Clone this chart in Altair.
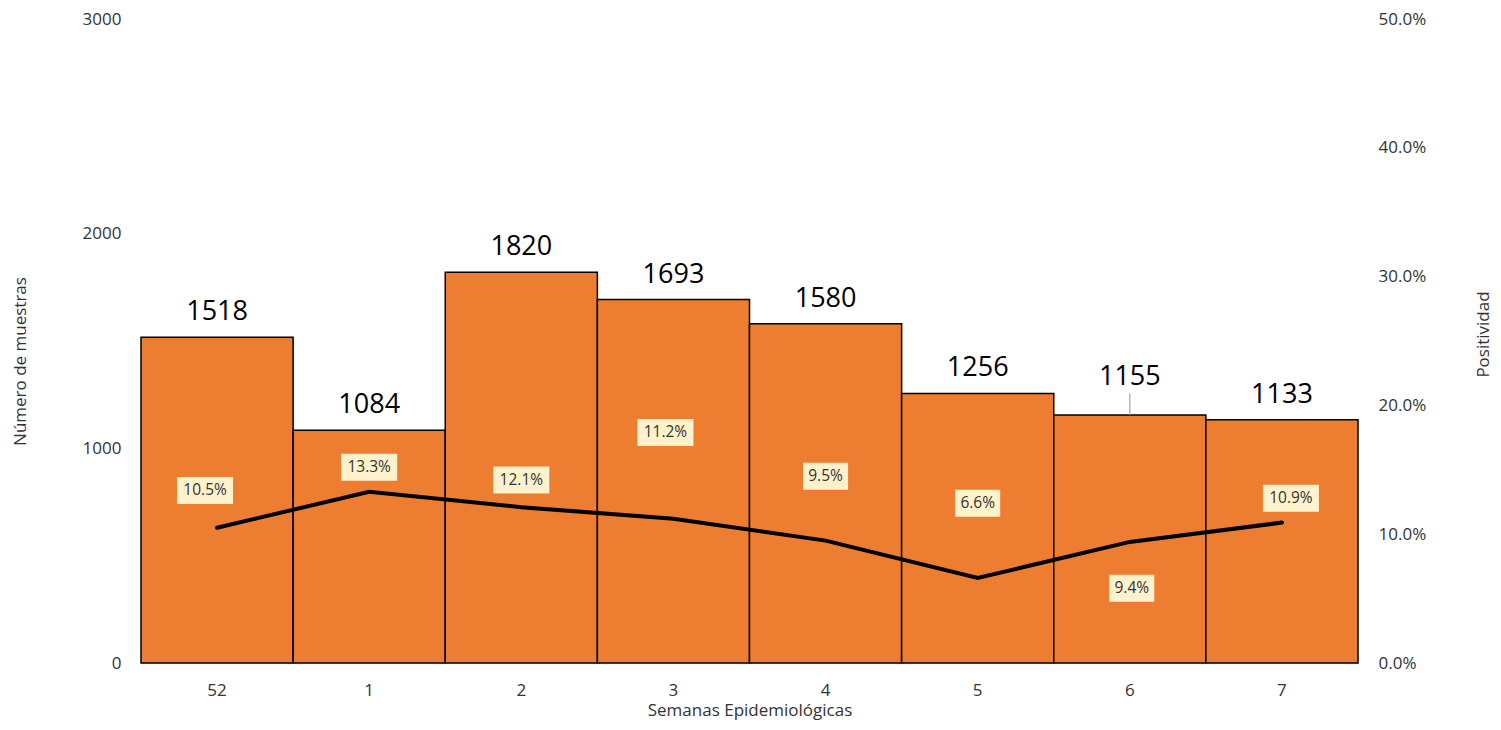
import altair as alt
import pandas as pd

# ---- data ----
WEEKS = ["52", "1", "2", "3", "4", "5", "6", "7"]
SAMPLES = [1518, 1084, 1820, 1693, 1580, 1256, 1155, 1133]
POSITIVITY = [10.5, 13.3, 12.1, 11.2, 9.5, 6.6, 9.4, 10.9]
PCT_LABELS = ["10.5%", "13.3%", "12.1%", "11.2%", "9.5%", "6.6%", "9.4%", "10.9%"]

# ---- label placement (layout) ----
PCT_LABEL_SHIFT = [2.9, 1.9, 2.1, 6.7, 5.0, 5.8, -3.6, 1.9]   # axis units
PCT_LABEL_XSHIFT = [-12, 0, 0, -8, 0, 0, 2, 9]                # pixels from band centre
COUNT_LABEL_SHIFT = [0, 0, 0, 0, 0, 0, 60, 0]
LEADER_LEN = [0, 0, 0, 0, 0, 0, 100, 0]

W, H = 1217, 644
HALF_BAND = W / len(WEEKS) / 2

df = pd.DataFrame({
    "week": WEEKS,
    "samples": SAMPLES,
    "pct": POSITIVITY,
    "label": PCT_LABELS,
    "pct_pos": [p + s for p, s in zip(POSITIVITY, PCT_LABEL_SHIFT)],
    "xshift": [HALF_BAND + s for s in PCT_LABEL_XSHIFT],
    "count_pos": [c + s for c, s in zip(SAMPLES, COUNT_LABEL_SHIFT)],
    "leader_end": [c + l for c, l in zip(SAMPLES, LEADER_LEN)],
    "has_leader": [l > 0 for l in LEADER_LEN],
    "long": [len(t) > 4 for t in PCT_LABELS],
})

FONT = "Open Sans"
TXT = "#333333"

x_enc = alt.X(
    "week:N", sort=WEEKS,
    scale=alt.Scale(paddingInner=0, paddingOuter=0),
    axis=alt.Axis(
        title="Semanas Epidemiológicas", labelAngle=0, ticks=False,
        domainColor="#D9D9D9", domainWidth=1.5, labelPadding=19,
        labelFontSize=17, labelColor=TXT, titleFontSize=17,
        titleFontWeight="normal", titleColor=TXT, titleY=47,
        titleBaseline="middle",
    ),
)
x_off = alt.XOffset("xshift:Q", scale=None)

left_scale = alt.Scale(domain=[0, 3000])
right_scale = alt.Scale(domain=[0, 50])

base = alt.Chart(df)

bars = base.mark_bar(color="#ED7D31", stroke="black", strokeWidth=1.5).encode(
    x=x_enc,
    y=alt.Y(
        "samples:Q", scale=left_scale,
        axis=alt.Axis(
            values=[0, 1000, 2000, 3000], format="d", grid=False, domain=False,
            ticks=False, labelPadding=20, labelFontSize=17, labelColor=TXT,
            title="Número de muestras", titleFontSize=17, titleFontWeight="normal",
            titleColor=TXT, titleAngle=-90, titleX=-121, titleY=342,
            titleAlign="center", titleBaseline="middle",
        ),
    ),
)

counts = base.mark_text(
    font=FONT, fontSize=27, color="black", baseline="alphabetic", dy=-17
).encode(
    x=x_enc,
    y=alt.Y("count_pos:Q", scale=left_scale),
    text=alt.Text("samples:Q", format="d"),
)

leader = base.transform_filter("datum.has_leader").mark_rule(
    color="#A6A6A6", strokeWidth=1.2
).encode(
    x=x_enc,
    y=alt.Y("samples:Q", scale=left_scale),
    y2="leader_end:Q",
)

left = alt.layer(bars, leader, counts)

line = base.mark_line(color="black", strokeWidth=4, strokeCap="round").encode(
    x=x_enc,
    y=alt.Y(
        "pct:Q", scale=right_scale,
        axis=alt.Axis(
            orient="right", values=[0, 10, 20, 30, 40, 50], grid=False,
            domain=False, ticks=False, labelPadding=20, labelFontSize=17,
            labelColor=TXT, labelExpr="format(datum.value, '.1f') + '%'",
            title="Positividad", titleFontSize=17, titleFontWeight="normal",
            titleColor=TXT, titleAngle=-90, titleX=125, titleY=315,
            titleAlign="center", titleBaseline="middle",
        ),
    ),
)

box_long = base.transform_filter("datum.long").mark_point(
    shape="M-1,-0.482L1,-0.482L1,0.482L-1,0.482Z", size=3136,
    filled=True, fill="#FFF2CC", strokeWidth=0, opacity=1,
).encode(x=x_enc, xOffset=x_off, y=alt.Y("pct_pos:Q", scale=right_scale))

box_short = base.transform_filter("!datum.long").mark_point(
    shape="M-1,-0.6L1,-0.6L1,0.6L-1,0.6Z", size=2025,
    filled=True, fill="#FFF2CC", strokeWidth=0, opacity=1,
).encode(x=x_enc, xOffset=x_off, y=alt.Y("pct_pos:Q", scale=right_scale))

pct_text = base.mark_text(
    font=FONT, fontSize=15.5, color=TXT, baseline="middle", align="center"
).encode(
    x=x_enc,
    xOffset=x_off,
    y=alt.Y("pct_pos:Q", scale=right_scale),
    text="label:N",
)

right = alt.layer(line, box_long, box_short, pct_text)

chart = (
    alt.layer(left, right)
    .resolve_scale(y="independent")
    .properties(
        width=W, height=H, autosize="none",
        padding={"left": 133, "top": 11, "right": 135, "bottom": 58},
        background="white",
    )
    .configure(font=FONT)
    .configure_view(stroke="transparent", strokeWidth=0)
)

chart.save("out.html", embed_options={"renderer": "svg", "actions": False})
